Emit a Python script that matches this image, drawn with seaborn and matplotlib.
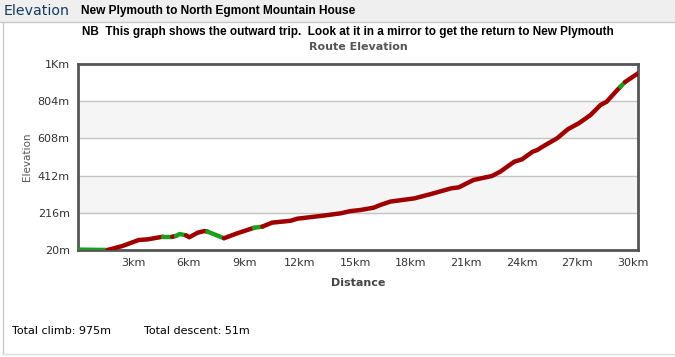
import matplotlib
matplotlib.use("Agg")
import matplotlib.pyplot as plt
from matplotlib.patches import Rectangle
from matplotlib.lines import Line2D
import seaborn as sns
import pandas as pd

# ---- data ----
distance_km = [0, 1.6, 2.4, 3.3, 3.77, 4.58, 5.1, 5.3, 5.5, 5.85, 6.02, 6.47, 6.83, 7.0,
               7.9, 8.62, 9.52, 9.97, 10.5, 11.5, 11.87, 13.1, 14.2, 14.75, 15.3, 16.0,
               16.35, 16.9, 18.2, 19.1, 20.2, 20.6, 21.4, 22.4, 22.85, 23.6, 24.03, 24.6,
               24.85, 25.2, 25.93, 26.5, 27.1, 27.73, 28.27, 28.6, 29.17, 29.35, 29.6, 30.3]
elevation_m = [22, 20, 41, 73, 76, 90, 90, 94, 104, 97, 87, 111, 120, 117,
               82, 108, 137, 143, 164, 174, 185, 199, 213, 225, 231, 243,
               257, 275, 292, 315, 345, 350, 389, 410, 433, 485, 498, 538,
               547, 568, 609, 656, 688, 731, 784, 801, 862, 880, 905, 951]
# colour class of the segment that starts at each point (last entry unused)
segment_class = ["flat", "climb", "climb", "climb", "climb", "flat", "climb", "flat", "flat", "climb",
                 "climb", "climb", "climb", "flat", "climb", "climb", "flat", "climb", "climb", "climb",
                 "climb", "climb", "climb", "climb", "climb", "climb", "climb", "climb", "climb", "climb",
                 "climb", "climb", "climb", "climb", "climb", "climb", "climb", "climb", "climb", "climb",
                 "climb", "climb", "climb", "climb", "climb", "climb", "climb", "flat", "climb", "climb"]
y_ticks = [20, 216, 412, 608, 804, 1000]
y_tick_labels = ["20m", "216m", "412m", "608m", "804m", "1Km"]
x_ticks = [3, 6, 9, 12, 15, 18, 21, 24, 27, 30]
x_tick_labels = ["3km", "6km", "9km", "12km", "15km", "18km", "21km", "24km", "27km", "30km"]
total_climb = "975m"
total_descent = "51m"

colors = {"climb": "#9e0000", "flat": "#1e9e1e"}

sns.set_theme(style="white")
plt.rcParams["font.family"] = ["DejaVu Sans"]

W, H = 675, 357
fig = plt.figure(figsize=(W / 100, H / 100), dpi=100)
fig.patch.set_facecolor("white")

def fx(px):
    return px / W

def fy(py):
    return 1 - py / H

# header bar and frame
fig.patches.append(Rectangle((0, fy(22)), 1, 22 / H, transform=fig.transFigure,
                             facecolor="#efefef", edgecolor="none", zorder=0))
fig.lines.append(Line2D([0, 1], [fy(22), fy(22)], transform=fig.transFigure, color="#c8c8c8", lw=1))
fig.lines.append(Line2D([fx(3), fx(3)], [fy(22), fy(354)], transform=fig.transFigure, color="#c8c8c8", lw=1))
fig.lines.append(Line2D([fx(3), 1], [fy(354), fy(354)], transform=fig.transFigure, color="#dcdcdc", lw=1))

narrow = ["Liberation Sans", "DejaVu Sans"]
fig.text(fx(4), fy(11), "Elevation", color="#163a5c", fontsize=10.2, va="center", ha="left")
fig.text(fx(81), fy(11), "New Plymouth to North Egmont Mountain House",
         family=narrow, fontweight="bold", fontsize=8.6, va="center", ha="left", color="black")
fig.text(fx(82), fy(32), "NB  This graph shows the outward trip.  Look at it in a mirror to get the return to New Plymouth",
         family=narrow, fontweight="bold", fontsize=8.5, va="center", ha="left", color="black")

ax = fig.add_axes([fx(78), fy(250), (638 - 78) / W, (250 - 64) / H])

# alternating bands
ax.axhspan(216, 412, color="#f5f5f5", zorder=0, lw=0)
ax.axhspan(608, 804, color="#f5f5f5", zorder=0, lw=0)
for yv in y_ticks[1:-1]:
    ax.axhline(yv, color="#c4c4c4", lw=1, zorder=1)

df = pd.DataFrame({"distance": distance_km, "elevation": elevation_m, "cls": segment_class})
# draw runs of equal colour class
start = 0
n = len(df)
for i in range(1, n):
    if i == n - 1 or df.cls[i] != df.cls[start]:
        sub = df.iloc[start:i + 1]
        sns.lineplot(data=sub, x="distance", y="elevation", ax=ax, color=colors[df.cls[start]],
                     lw=3.2, sort=False, estimator=None, zorder=3,
                     solid_capstyle="round", solid_joinstyle="round")
        start = i

ax.set_xlim(0, 30.3)
ax.set_ylim(20, 1000)
ax.set_yticks(y_ticks)
ax.set_yticklabels(y_tick_labels)
ax.set_xticks(x_ticks)
ax.set_xticklabels(x_tick_labels)
ax.tick_params(axis="both", length=0, labelsize=8, colors="#333333", pad=6)
for s in ax.spines.values():
    s.set_color("#555555")
    s.set_linewidth(2)
    s.set_visible(True)
ax.set_xlabel("Distance", fontsize=8, fontweight="bold", color="#444444", labelpad=7)
ax.set_ylabel("Elevation", fontsize=7.5, color="#555555", labelpad=4)
ax.set_title("Route Elevation", fontsize=8, fontweight="bold", color="#555555", pad=10)
ax.grid(False)

fig.text(fx(12), fy(331), f"Total climb: {total_climb}", fontsize=8, va="center", ha="left", color="black")
fig.text(fx(144), fy(331), f"Total descent: {total_descent}", fontsize=8, va="center", ha="left", color="black")

fig.savefig("out.png", dpi=100)
